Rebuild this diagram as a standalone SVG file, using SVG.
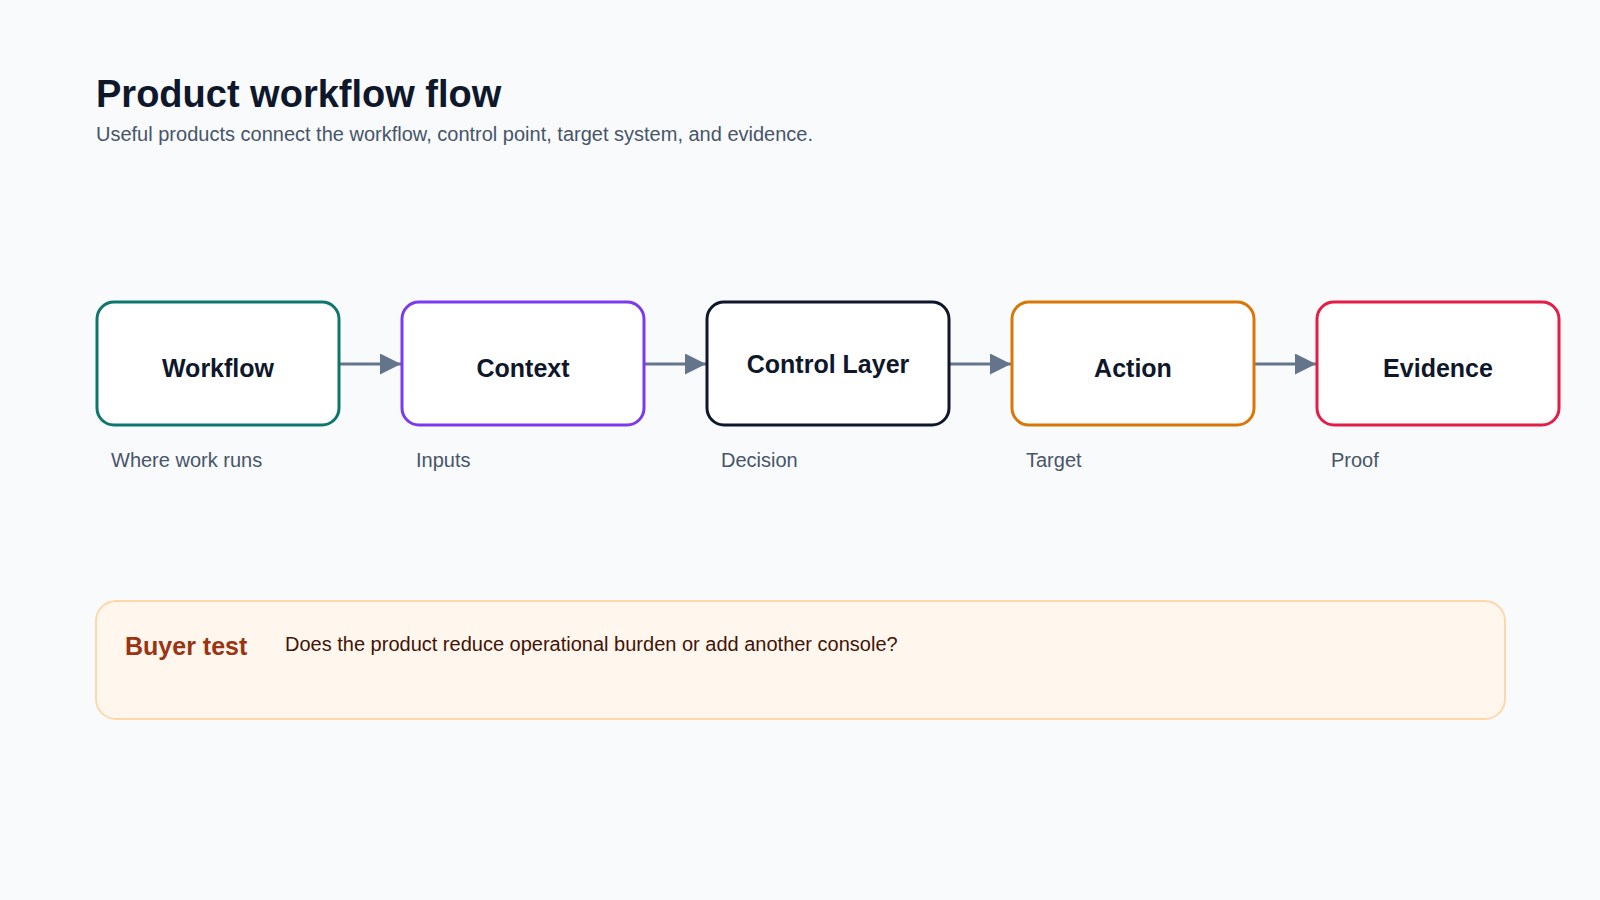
<svg xmlns="http://www.w3.org/2000/svg" width="1600" height="900" viewBox="0 0 1600 900">
<defs>
<style>
.title{font-family:"Liberation Sans",Arial,sans-serif;font-weight:700;font-size:38px;fill:#0f172a}
.sub{font-family:"Liberation Sans",Arial,sans-serif;font-size:20px;fill:#475569}
.box{fill:#ffffff;stroke-width:3}
.lbl{font-family:"Liberation Sans",Arial,sans-serif;font-weight:700;font-size:25px;fill:#0f172a;text-anchor:middle}
.cap{font-family:"Liberation Sans",Arial,sans-serif;font-size:20px;fill:#475569}
.conn{stroke:#64748b;stroke-width:3;fill:none}
</style>
<marker id="arr" viewBox="0 0 10 10" refX="10" refY="5" markerWidth="7.5" markerHeight="7" markerUnits="strokeWidth" orient="auto">
<path d="M0,0 L10,5 L0,10 z" fill="#64748b"/>
</marker>
</defs>
<rect width="1600" height="900" fill="#f8fafc"/>
<text class="title" x="96" y="107">Product workflow flow</text>
<text class="sub" x="96" y="141">Useful products connect the workflow, control point, target system, and evidence.</text>

<g id="connectors">
<line class="conn" x1="339" y1="364" x2="401" y2="364" marker-end="url(#arr)"/>
<line class="conn" x1="644" y1="364" x2="706" y2="364" marker-end="url(#arr)"/>
<line class="conn" x1="949" y1="364" x2="1011" y2="364" marker-end="url(#arr)"/>
<line class="conn" x1="1254" y1="364" x2="1316" y2="364" marker-end="url(#arr)"/>
</g>

<g id="node-workflow">
<rect class="box" x="97" y="302" width="242" height="123" rx="17" stroke="#0f766e"/>
<text class="lbl" x="218" y="377">Workflow</text>
<text class="cap" x="111" y="467">Where work runs</text>
</g>
<g id="node-context">
<rect class="box" x="402" y="302" width="242" height="123" rx="17" stroke="#7c3aed"/>
<text class="lbl" x="523" y="377">Context</text>
<text class="cap" x="416" y="467">Inputs</text>
</g>
<g id="node-control">
<rect class="box" x="707" y="302" width="242" height="123" rx="17" stroke="#0f172a"/>
<text class="lbl" x="828" y="373">Control Layer</text>
<text class="cap" x="721" y="467">Decision</text>
</g>
<g id="node-action">
<rect class="box" x="1012" y="302" width="242" height="123" rx="17" stroke="#d97706"/>
<text class="lbl" x="1133" y="377">Action</text>
<text class="cap" x="1026" y="467">Target</text>
</g>
<g id="node-evidence">
<rect class="box" x="1317" y="302" width="242" height="123" rx="17" stroke="#e11d48"/>
<text class="lbl" x="1438" y="377">Evidence</text>
<text class="cap" x="1331" y="467">Proof</text>
</g>

<g id="buyer-test">
<rect x="96" y="601" width="1409" height="118" rx="20" fill="#fff7ed" stroke="#fed7aa" stroke-width="2"/>
<text x="125" y="655" font-family="'Liberation Sans',Arial,sans-serif" font-weight="700" font-size="25" fill="#9a3412">Buyer test</text>
<text x="285" y="651" font-family="'Liberation Sans',Arial,sans-serif" font-size="20" fill="#431407">Does the product reduce operational burden or add another console?</text>
</g>
</svg>
